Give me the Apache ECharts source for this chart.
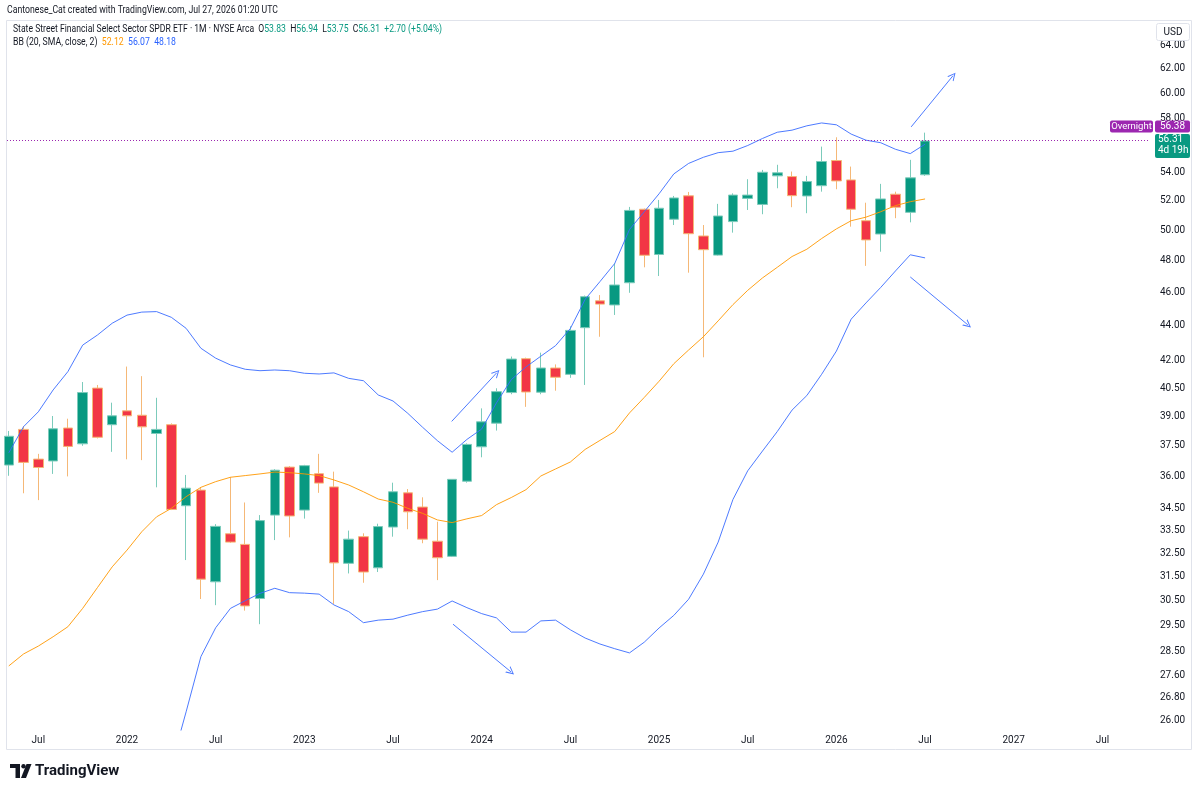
<!DOCTYPE html>
<html>
<head>
<meta charset="utf-8">
<script src="https://cdn.jsdelivr.net/npm/echarts@6/dist/echarts.min.js"></script>
<style>
  html, body { margin: 0; padding: 0; background: #fff; }
  #chart { width: 1200px; height: 792px; }
</style>
</head>
<body>
<div id="chart"></div>
<script>
// monthly bars, XLF
const months = [
  '2021-05', '2021-06', '2021-07', '2021-08', '2021-09', '2021-10', '2021-11', '2021-12',
  '2022-01', '2022-02', '2022-03', '2022-04', '2022-05', '2022-06', '2022-07', '2022-08', '2022-09', '2022-10', '2022-11', '2022-12',
  '2023-01', '2023-02', '2023-03', '2023-04', '2023-05', '2023-06', '2023-07', '2023-08', '2023-09', '2023-10', '2023-11', '2023-12',
  '2024-01', '2024-02', '2024-03', '2024-04', '2024-05', '2024-06', '2024-07', '2024-08', '2024-09', '2024-10', '2024-11', '2024-12',
  '2025-01', '2025-02', '2025-03', '2025-04', '2025-05', '2025-06', '2025-07', '2025-08', '2025-09', '2025-10', '2025-11', '2025-12',
  '2026-01', '2026-02', '2026-03', '2026-04', '2026-05', '2026-06', '2026-07'
]
const open = [
  36.55, 38.33, 36.84, 36.75, 38.40, 37.60, 40.50, 38.57,
  39.29, 39.06, 38.12, 38.57, 34.62, 35.35, 31.28, 33.35, 32.88, 30.59, 34.19, 36.45,
  34.42, 36.13, 35.50, 32.06, 33.22, 31.87, 33.65, 35.22, 34.56, 33.02, 32.36, 35.77,
  37.45, 38.65, 40.26, 42.12, 40.28, 41.60, 41.25, 43.90, 45.50, 45.25, 46.61, 51.41,
  48.40, 50.73, 52.34, 49.61, 48.36, 50.57, 52.16, 51.74, 53.75, 53.70, 52.33, 53.05,
  54.86, 53.46, 50.63, 49.74, 52.45, 51.20, 53.83
]
const high = [
  38.25, 38.50, 37.10, 39.02, 38.88, 40.83, 40.67, 39.72,
  41.68, 41.15, 39.98, 38.64, 36.07, 35.49, 33.78, 35.97, 34.77, 34.19, 36.35, 36.50,
  36.56, 37.10, 36.23, 33.49, 33.37, 33.80, 35.70, 35.40, 35.01, 33.89, 35.87, 37.62,
  39.42, 40.49, 42.24, 42.18, 42.46, 41.80, 43.98, 45.82, 45.85, 47.84, 51.57, 51.46,
  52.05, 52.33, 52.61, 50.34, 51.78, 52.51, 53.51, 54.18, 54.55, 54.06, 53.75, 55.89,
  56.59, 54.42, 51.86, 53.18, 52.63, 54.91, 56.94
]
const low = [
  36.03, 35.20, 34.88, 36.12, 36.00, 37.50, 37.87, 37.20,
  36.83, 36.79, 35.48, 34.42, 32.20, 30.57, 30.32, 32.94, 30.10, 29.56, 33.07, 33.19,
  34.03, 35.22, 30.37, 31.63, 31.24, 31.69, 33.22, 33.55, 32.93, 31.35, 32.33, 35.70,
  36.93, 38.27, 40.17, 39.50, 40.17, 40.36, 41.06, 40.67, 43.37, 44.65, 45.99, 47.58,
  47.03, 50.34, 47.24, 42.20, 48.33, 49.83, 51.36, 51.07, 52.87, 51.55, 51.14, 52.63,
  52.80, 50.23, 47.67, 48.58, 50.80, 50.52, 53.75
]
const close = [
  37.98, 36.68, 36.43, 38.36, 37.47, 40.26, 37.93, 39.03,
  39.03, 38.46, 38.33, 34.45, 35.44, 31.39, 33.68, 32.98, 30.29, 33.94, 36.30, 34.15,
  36.52, 35.68, 32.08, 33.11, 31.69, 33.67, 35.27, 34.34, 33.11, 32.30, 35.86, 37.57,
  38.72, 40.31, 42.10, 40.29, 41.60, 41.09, 43.74, 45.75, 45.30, 46.47, 51.33, 48.35,
  51.48, 52.19, 49.76, 48.71, 50.95, 52.39, 52.39, 54.01, 53.97, 52.35, 53.35, 54.79,
  53.39, 51.41, 49.35, 52.12, 51.55, 53.61, 56.31
]

// Bollinger bands
const bbBasis = [
  27.96, 28.41, 28.71, 29.07, 29.46, 30.19, 31.04, 31.91,
  32.63, 33.44, 34.11, 34.50, 35.04, 35.48, 35.75, 35.96, 36.04, 36.12, 36.21, 36.18,
  36.12, 36.04, 35.83, 35.59, 35.27, 34.93, 34.78, 34.50, 34.27, 33.97, 33.85, 34.02,
  34.17, 34.67, 35.00, 35.37, 36.02, 36.36, 36.70, 37.32, 37.77, 38.22, 39.18, 40.00,
  40.87, 41.84, 42.61, 43.37, 44.30, 45.27, 46.14, 46.91, 47.58, 48.27, 48.74, 49.44,
  50.08, 50.63, 50.87, 51.24, 51.66, 51.93, 52.12
]
const bbUpper = [
  37.15, 38.47, 39.24, 40.40, 41.40, 42.89, 43.47, 44.16,
  44.64, 44.82, 44.85, 44.51, 43.86, 42.71, 42.15, 41.77, 41.53, 41.45, 41.49, 41.45,
  41.31, 41.27, 41.33, 41.03, 40.90, 40.13, 39.81, 39.16, 38.44, 37.76, 37.18, 37.82,
  38.35, 39.71, 40.96, 41.66, 42.26, 42.86, 43.85, 45.59, 46.68, 47.82, 50.04, 51.24,
  52.48, 53.89, 54.65, 55.10, 55.44, 55.55, 55.97, 56.50, 56.97, 57.13, 57.46, 57.68,
  57.54, 56.83, 56.37, 56.18, 55.69, 55.37, 56.07
]
const bbLower = [
  18.77, 18.35, 18.18, 17.74, 17.52, 17.49, 18.61, 19.66,
  20.62, 22.06, 23.37, 24.49, 26.30, 28.31, 29.42, 30.19, 30.50, 30.80, 31.01, 30.83,
  30.81, 30.77, 30.33, 30.06, 29.62, 29.72, 29.76, 29.92, 30.06, 30.16, 30.49, 30.22,
  29.98, 29.81, 29.25, 29.25, 29.69, 29.72, 29.34, 29.02, 28.79, 28.61, 28.45, 28.86,
  29.41, 29.91, 30.56, 31.60, 32.98, 34.91, 36.27, 37.24, 38.22, 39.33, 40.10, 41.25,
  42.55, 44.40, 45.37, 46.32, 47.35, 48.38, 48.18
]

const priceTicks = [26, 26.8, 27.6, 28.5, 29.5, 30.5, 31.5, 32.5, 33.5, 34.5, 36, 37.5, 39, 40.5, 42, 44, 46, 48, 50, 52, 54, 56, 58, 60, 62, 64]
const timeTicks = ['2021-07', '2022-01', '2022-07', '2023-01', '2023-07', '2024-01', '2024-07', '2025-01', '2025-07', '2026-01', '2026-07', '2027-01', '2027-07']

// drawn arrows: [month index from Jan 2022, price] -> [month index, price]
const arrows = [
  [[21.97, 38.74], [25.01, 41.33]],
  [[22.06, 29.56], [25.98, 27.74]],
  [[53.06, 57.38], [55.89, 61.43]],
  [[53.00, 46.97], [56.90, 44.06]]
]
const overnightPrice = 56.38
const lastPrice = 56.31

const mi = s => (Number(s.slice(0, 4)) - 2022) * 12 + Number(s.slice(5, 7)) - 1

const TXT = '#131722'
const FONT = 'Roboto'
const BLUE = '#3a6cff'
const chart = echarts.init(document.getElementById('chart'))

const lineSeries = (name, values, color) => ({
  name,
  type: 'line',
  data: months.map((m, i) => [mi(m), values[i]]),
  showSymbol: false,
  symbol: 'none',
  z: 3,
  lineStyle: { color, width: 1, opacity: 0.9 },
  clip: true
})

chart.setOption({
  animation: false,
  grid: { left: 7, right: 50, top: 20, bottom: 62, outerBoundsMode: 'none' },
  xAxis: {
    type: 'value',
    min: -8.12,
    max: 69.22,
    axisLine: { show: false },
    axisTick: { show: false },
    splitLine: { show: false },
    axisLabel: {
      customValues: timeTicks.map(mi),
      color: TXT,
      fontSize: 10,
      fontFamily: FONT,
      margin: 5,
      formatter: v => (v % 12 === 0 ? String(2022 + v / 12) : 'Jul')
    }
  },
  yAxis: {
    type: 'log',
    logBase: 10,
    position: 'right',
    min: 25.67,
    max: 66.17,
    axisLine: { show: false },
    axisTick: { show: false },
    splitLine: { show: false },
    axisLabel: {
      customValues: priceTicks,
      color: TXT,
      fontSize: 10,
      fontFamily: FONT,
      margin: 10,
      formatter: v => Number(v).toFixed(2)
    }
  },
  series: [
    {
      name: 'XLF',
      type: 'candlestick',
      data: months.map((m, i) => [mi(m), open[i], close[i], low[i], high[i]]),
      encode: { x: 0, y: [1, 2, 3, 4] },
      barWidth: 10,
      z: 2,
      itemStyle: {
        color: '#089981',
        color0: '#f23645',
        borderColor: '#7ccbbb',
        borderColor0: '#f5b877',
        borderWidth: 1
      },
      markLine: {
        silent: true,
        symbol: ['none', 'none'],
        label: { show: false },
        lineStyle: { color: '#9c27b0', type: [1, 2], width: 1 },
        data: [{ yAxis: overnightPrice }]
      }
    },
    lineSeries('Basis', bbBasis, '#ff9800'),
    lineSeries('Upper', bbUpper, BLUE),
    lineSeries('Lower', bbLower, BLUE),
    {
      type: 'lines',
      coordinateSystem: 'cartesian2d',
      z: 4,
      symbol: ['none', 'path://M5,0 L10,9 L8.6,9 L5,2.4 L1.4,9 L0,9 Z'],
      symbolSize: [9, 8],
      lineStyle: { color: BLUE, width: 1, opacity: 0.9 },
      data: arrows.map(a => ({ coords: a }))
    }
  ]
})

// fit header text widths to the snapshot
const ctx = document.createElement('canvas').getContext('2d')
const fitScale = (text, size, weight, target) => {
  ctx.font = `${weight} ${size}px ${FONT}`
  return target / ctx.measureText(text).width
}

const line0 = 'Cantonese_Cat created with TradingView.com, Jul 27, 2026 01:20 UTC'
const line1 = 'State Street Financial Select Sector SPDR ETF · 1M · NYSE Arca  O53.83  H56.94  L53.75  C56.31  +2.70 (+5.04%)'
const line2 = 'BB (20, SMA, close, 2)  52.12  56.07  48.18'

const py = chart.convertToPixel({ yAxisIndex: 0 }, overnightPrice)
const pg = chart.convertToPixel({ yAxisIndex: 0 }, lastPrice)

const box = (x, y, w, h, fill, stroke) => ({
  type: 'rect', z: 50,
  shape: { x, y, width: w, height: h, r: 2 },
  style: { fill, stroke: stroke || null, lineWidth: 1 }
})
const label = (x, y, text, color, size, weight, align) => ({
  type: 'text', z: 51, x, y,
  style: {
    text, fill: color, font: `${weight || 'normal'} ${size}px ${FONT}`,
    align: align || 'left', verticalAlign: 'middle'
  }
})

chart.setOption({
  graphic: [
    // pane border
    { type: 'rect', z: 1, silent: true, shape: { x: 6.5, y: 20.5, width: 1185, height: 729 }, style: { fill: 'none', stroke: '#e0e3eb', lineWidth: 1 } },
    // header
    {
      type: 'text', z: 51, x: 7, y: 10,
      scaleX: fitScale(line0, 11, 'normal', 271),
      style: { text: line0, fill: TXT, font: `11px ${FONT}`, verticalAlign: 'middle' }
    },
    {
      type: 'text', z: 51, x: 13, y: 29.5,
      scaleX: fitScale(line1, 10.5, 'normal', 429),
      style: {
        text: '{a|State Street Financial Select Sector SPDR ETF · 1M · NYSE Arca  O}{g|53.83}  {a|H}{g|56.94}  {a|L}{g|53.75}  {a|C}{g|56.31}  {g|+2.70 (+5.04%)}',
        font: `10.5px ${FONT}`,
        verticalAlign: 'middle',
        rich: {
          a: { fill: TXT, fontSize: 10.5, fontFamily: FONT },
          g: { fill: '#089981', fontSize: 10.5, fontFamily: FONT }
        }
      }
    },
    {
      type: 'text', z: 51, x: 13, y: 42.5,
      scaleX: fitScale(line2, 10.5, 'normal', 163),
      style: {
        text: '{a|BB (20, SMA, close, 2)}  {o|52.12}  {b|56.07}  {b|48.18}',
        font: `10.5px ${FONT}`,
        verticalAlign: 'middle',
        rich: {
          a: { fill: TXT, fontSize: 10.5, fontFamily: FONT },
          o: { fill: '#ff9800', fontSize: 10.5, fontFamily: FONT },
          b: { fill: '#2962ff', fontSize: 10.5, fontFamily: FONT }
        }
      }
    },
    // USD box
    box(1156.5, 23.5, 33, 17, '#ffffff', '#e0e3eb'),
    label(1173, 32, 'USD', TXT, 10, 'normal', 'center'),
    // overnight and last price labels
    box(1110, py - 19.5, 43, 12, '#9c27b0'),
    label(1131.5, py - 13.5, 'Overnight', '#ffffff', 9.5, 'normal', 'center'),
    box(1155, py - 19.5, 35, 12, '#9c27b0'),
    label(1172.5, py - 13.5, overnightPrice.toFixed(2), '#ffffff', 10, 'normal', 'center'),
    box(1155, pg - 7, 35, 24, '#089981'),
    label(1158, pg - 1, lastPrice.toFixed(2), '#ffffff', 10, 'normal', 'left'),
    label(1158, pg + 10, '4d 19h', '#ffffff', 10, 'normal', 'left'),
    // TradingView logo
    { type: 'rect', z: 51, shape: { x: 10, y: 764, width: 10, height: 4 }, style: { fill: TXT } },
    { type: 'rect', z: 51, shape: { x: 15.5, y: 764, width: 4.5, height: 14 }, style: { fill: TXT } },
    { type: 'circle', z: 51, shape: { cx: 23.5, cy: 766.2, r: 2.2 }, style: { fill: TXT } },
    { type: 'polygon', z: 51, shape: { points: [[26.5, 764], [31.5, 764], [26, 778], [21, 778]] }, style: { fill: TXT } },
    label(35, 771.5, 'TradingView', TXT, 15, 'bold', 'left')
  ]
})
</script>
</body>
</html>
